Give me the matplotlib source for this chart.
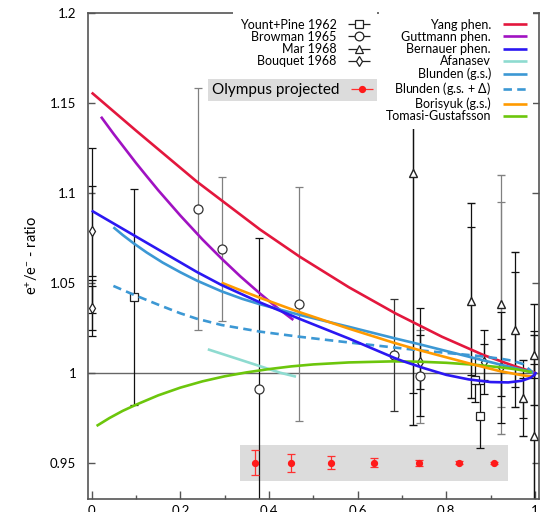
import numpy as np
import matplotlib
matplotlib.use("Agg")
import matplotlib.pyplot as plt
from matplotlib.container import ErrorbarContainer
from matplotlib.legend_handler import HandlerErrorbar

# ---------------- data ----------------
# Yount+Pine 1962
yount_x = [0.095, 0.865, 0.875]
yount_y = [1.042, 0.996, 0.976]
yount_err = [0.060, 0.012, 0.018]

# Browman 1965
browman_x = [0.240, 0.293, 0.378, 0.468, 0.682, 0.740]
browman_y = [1.091, 1.069, 0.991, 1.038, 1.010, 0.998]
browman_err = [0.067, 0.040, 0.084, 0.065, 0.031, 0.026]

# Mar 1968 (total and inner error)
mar_x = [0.724, 0.855, 0.924, 0.954, 0.973, 0.997, 0.997]
mar_y = [1.111, 1.040, 1.038, 1.024, 0.986, 1.010, 0.965]
mar_err = [0.140, 0.054, 0.072, 0.043, 0.021, 0.028, 0.056]
mar_err_in = [0.122, 0.041, 0.057, 0.032, 0.011, 0.013, 0.040]

# Bouquet 1968 (total and inner error)
bouquet_x = [0.001, 0.001, 0.741, 0.884, 0.924]
bouquet_y = [1.079, 1.036, 1.006, 1.006, 1.003]
bouquet_err = [0.046, 0.0155, 0.030, 0.018, 0.031]
bouquet_err_in = [0.025, 0.012, 0.015, 0.010, 0.016]

# Olympus projected
olympus_x = [0.369, 0.449, 0.540, 0.637, 0.738, 0.829, 0.907]
olympus_y = [0.950, 0.950, 0.950, 0.950, 0.950, 0.950, 0.950]
olympus_err = [0.0068, 0.0051, 0.0035, 0.0025, 0.0016, 0.0009, 0.0005]
olympus_band_x = [0.335, 0.940]
olympus_band_y = [0.940, 0.960]

# theory curves
yang_x = [0.0, 0.10, 0.237, 0.380, 0.469, 0.580, 0.685, 0.790, 0.884, 0.950, 1.0]
yang_y = [1.1556, 1.1345, 1.1062, 1.0795, 1.0645, 1.0475, 1.0330, 1.0200, 1.0098, 1.0040, 1.0]

gutt_x = [0.021, 0.050, 0.100, 0.124, 0.150, 0.200, 0.250, 0.293, 0.335, 0.380, 0.420, 0.455]
gutt_y = [1.1422, 1.1325, 1.1165, 1.1092, 1.1014, 1.0873, 1.0740, 1.0634, 1.0536, 1.0439,
          1.0358, 1.0293]

bern_x = [0.0, 0.094, 0.237, 0.293, 0.380, 0.468, 0.580, 0.683, 0.700, 0.750, 0.800,
          0.850, 0.900, 0.940, 0.970, 0.990, 1.000, 1.002]
bern_y = [1.090, 1.0765, 1.056, 1.0487, 1.039, 1.030, 1.0190, 1.0082, 1.0066, 1.0025, 0.9988,
          0.9963, 0.9948, 0.9946, 0.9955, 0.9972, 0.9990, 1.0005]

afan_x = [0.262, 0.335, 0.425, 0.461]
afan_y = [1.013, 1.0072, 1.0, 0.9978]

blun_x = [0.049, 0.070, 0.094, 0.124, 0.160, 0.200, 0.237, 0.293, 0.340, 0.380, 0.468,
          0.580, 0.682, 0.741, 0.865, 0.922, 0.973, 0.997]
blun_y = [1.0808, 1.0765, 1.0720, 1.0668, 1.0612, 1.0558, 1.0512, 1.0452, 1.0410, 1.0380,
          1.0322, 1.0255, 1.0192, 1.0157, 1.0080, 1.0045, 1.0015, 1.0]

blund_x = [0.049, 0.094, 0.150, 0.200, 0.237, 0.293, 0.380, 0.468, 0.580, 0.682, 0.741,
           0.800, 0.865, 0.922, 0.950, 0.973, 0.993]
blund_y = [1.0482, 1.0434, 1.0378, 1.0330, 1.0300, 1.0265, 1.0228, 1.0200, 1.0168, 1.0140,
           1.0124, 1.0110, 1.0095, 1.0078, 1.0066, 1.0048, 1.0006]

bori_x = [0.293, 0.335, 0.380, 0.468, 0.580, 0.682, 0.741, 0.865, 0.922, 0.973, 0.997]
bori_y = [1.0500, 1.0459, 1.0416, 1.0337, 1.0245, 1.0166, 1.0124, 1.0043, 1.0008, 0.9985, 0.9978]

toma_x = [0.011, 0.040, 0.070, 0.100, 0.150, 0.200, 0.250, 0.300, 0.350, 0.400, 0.450,
          0.500, 0.580, 0.680, 0.740, 0.800, 0.865, 0.922, 0.960, 0.993]
toma_y = [0.9704, 0.9748, 0.9788, 0.9822, 0.9874, 0.9917, 0.9952, 0.9980, 1.0002, 1.0020,
          1.0035, 1.0046, 1.0057, 1.0063, 1.0061, 1.0055, 1.0044, 1.0030, 1.0018, 1.0003]

xticks = [0, 0.2, 0.4, 0.6, 0.8, 1.0]
xticklabels = ["0", "0.2", "0.4", "0.6", "0.8", "1"]
yticks = [0.95, 1.0, 1.05, 1.1, 1.15, 1.2]
yticklabels = ["0.95", "1", "1.05", "1.1", "1.15", "1.2"]

# styles (not data)
browman_shade = ["#808080", "#808080", "#111111", "#808080", "#333333", "#808080"]
mar_shade = ["#111111", "#111111", "#808080", "#111111", "#111111", "#111111", "#111111"]

# ---------------- figure ----------------
plt.rcParams["font.family"] = ["Lato", "DejaVu Sans"]
plt.rcParams["mathtext.fontset"] = "custom"
plt.rcParams["mathtext.rm"] = "Lato"
plt.rcParams["mathtext.it"] = "Lato:italic"

W, H = 549, 512
fig = plt.figure(figsize=(W / 100, H / 100), dpi=100)
ax = fig.add_axes([88 / W, 1 - 498.7 / H, (539.3 - 88) / W, (498.7 - 12.7) / H])
ax.set_xlim(-0.0083, 1.0098)
ax.set_ylim(0.93, 1.2)

spine_c = "#555555"
for s in ax.spines.values():
    s.set_color(spine_c)
    s.set_linewidth(1.2)

ax.axhline(1.0, color="#666666", lw=1.0, zorder=1.5)
ax.fill_between(olympus_band_x, olympus_band_y[0], olympus_band_y[1],
                color="#dcdcdc", lw=0, zorder=1)

ekw = dict(elinewidth=0.9, capsize=2.8, capthick=0.9, zorder=2)

# Yount+Pine
for x, y, e in zip(yount_x, yount_y, yount_err):
    ax.errorbar([x], [y], yerr=[e], fmt="s", ms=6.2, mfc="white", mec="#222222",
                mew=0.9, ecolor="#111111", **ekw)
# Browman
for x, y, e, c in zip(browman_x, browman_y, browman_err, browman_shade):
    ax.errorbar([x], [y], yerr=[e], fmt="o", ms=6.5, mfc="white", mec="#333333",
                mew=0.9, ecolor=c, **ekw)
# Mar
for x, y, e, ei, c in zip(mar_x, mar_y, mar_err, mar_err_in, mar_shade):
    ax.errorbar([x], [y], yerr=[ei], fmt="none", ecolor=c, **ekw)
    ax.errorbar([x], [y], yerr=[e], fmt="^", ms=6, mfc="white", mec="#222222",
                mew=1.0, ecolor=c, **ekw)
# Bouquet
for x, y, e, ei in zip(bouquet_x, bouquet_y, bouquet_err, bouquet_err_in):
    ax.errorbar([x], [y], yerr=[ei], fmt="none", ecolor="#111111", **ekw)
    ax.errorbar([x], [y], yerr=[e], fmt="d", ms=5.5, mfc="white", mec="#222222",
                mew=0.9, ecolor="#111111", **ekw)

# theory curves
lw = 1.9
ckw = dict(lw=lw, solid_joinstyle="round", solid_capstyle="butt")
l_yang, = ax.plot(yang_x, yang_y, color="#e3173d", zorder=3, label="Yang phen.", **ckw)
l_gutt, = ax.plot(gutt_x, gutt_y, color="#a012c2", zorder=3, label="Guttmann phen.", **ckw)
l_bern, = ax.plot(bern_x, bern_y, color="#2b17f2", zorder=3.2, label="Bernauer phen.", **ckw)
l_afan, = ax.plot(afan_x, afan_y, color="#8edbd0", zorder=3, label="Afanasev", **ckw)
l_blun, = ax.plot(blun_x, blun_y, color="#3c98d4", zorder=3, label="Blunden (g.s.)", **ckw)
l_blund, = ax.plot(blund_x, blund_y, color="#3c98d4", lw=lw, ls=(0, (3.2, 2.0)), zorder=3,
                   label="Blunden (g.s. + $\\Delta$)")
l_bori, = ax.plot(bori_x, bori_y, color="#ff9a00", zorder=3.1, label="Borisyuk (g.s.)", **ckw)
l_toma, = ax.plot(toma_x, toma_y, color="#6cc60c", zorder=3, label="Tomasi-Gustafsson", **ckw)

# Olympus projected
ax.errorbar(olympus_x, olympus_y, yerr=olympus_err, fmt="o", ms=4.2, color="#ff1a1a",
            ecolor="#ff3030", elinewidth=0.9, capsize=2.8, capthick=0.9, zorder=4)

# axes ticks
ax.set_xticks(xticks)
ax.set_xticklabels(xticklabels)
ax.set_xticks([0.1, 0.3, 0.5, 0.7, 0.9], minor=True)
ax.set_yticks(yticks)
ax.set_yticklabels(yticklabels)
ax.tick_params(axis="x", which="major", direction="in", length=5.5, width=1.0,
               color=spine_c, pad=4.5, labelsize=9.5, top=False)
ax.tick_params(axis="x", which="minor", direction="in", length=2.7, width=1.0,
               color=spine_c, top=False)
ax.tick_params(axis="y", which="major", direction="in", length=5.3, width=1.0,
               color=spine_c, pad=8.5, labelsize=9.5, left=True, right=True)
ax.set_ylabel("e$^{+}$/e$^{-}$ - ratio", fontsize=10.5, va="center")
ax.yaxis.set_label_coords(-0.126, 0.5)

# ---------------- legends ----------------
def fig_anchor(px, py):
    return (px / W, 1 - py / H)

pk = dict(mfc="white", mew=0.9, elinewidth=0.9, capsize=2.8, capthick=0.9)
p_y = ax.errorbar([], [], xerr=[], fmt="s", ms=6.0, mec="#222222", ecolor="#222222", label="Yount+Pine 1962", **pk)
p_b = ax.errorbar([], [], xerr=[], fmt="o", ms=6.3, mec="#222222", ecolor="#222222", label="Browman 1965", **pk)
p_m = ax.errorbar([], [], xerr=[], fmt="^", ms=5.8, mec="#222222", ecolor="#222222", label="Mar 1968", **pk)
p_q = ax.errorbar([], [], xerr=[], fmt="d", ms=5.5, mec="#222222", ecolor="#222222", label="Bouquet 1968", **pk)
p_o = ax.errorbar([], [], xerr=[], fmt="o", ms=4.2, color="#ff1a1a", ecolor="#ff3030",
                  elinewidth=0.9, capsize=2.8, capthick=0.9, label="Olympus projected")

hmap = {ErrorbarContainer: HandlerErrorbar(xerr_size=0.88)}
leg1 = ax.legend(handles=[p_y, p_b, p_m, p_q], loc="upper right",
                 bbox_to_anchor=fig_anchor(376.5, 12.3), bbox_transform=fig.transFigure,
                 borderaxespad=0, borderpad=0.5, fontsize=9, markerfirst=False,
                 handlelength=1.8, handletextpad=0.9, labelspacing=0.02,
                 frameon=True, facecolor="white", edgecolor="none", framealpha=1,
                 fancybox=False, handler_map=hmap)
ax.add_artist(leg1)

leg2 = ax.legend(handles=[l_yang, l_gutt, l_bern, l_afan, l_blun, l_blund, l_bori, l_toma],
                 loc="upper right",
                 bbox_to_anchor=fig_anchor(533.0, 12.3), bbox_transform=fig.transFigure,
                 borderaxespad=0, borderpad=0.5, fontsize=9, markerfirst=False,
                 handlelength=1.87, handletextpad=0.98, labelspacing=0.02,
                 frameon=True, facecolor="white", edgecolor="none", framealpha=1,
                 fancybox=False)
ax.add_artist(leg2)

hmap_o = {ErrorbarContainer: HandlerErrorbar(xerr_size=0.72)}
leg3 = ax.legend(handles=[p_o], loc="upper right",
                 bbox_to_anchor=fig_anchor(376.5, 79.3), bbox_transform=fig.transFigure,
                 borderaxespad=0, borderpad=0.25, fontsize=11, markerfirst=False,
                 handlelength=1.44, handletextpad=0.74,
                 frameon=True, facecolor="#dcdcdc", edgecolor="none", framealpha=1,
                 fancybox=False, handler_map=hmap_o)

fig.savefig("out.png", dpi=100)
